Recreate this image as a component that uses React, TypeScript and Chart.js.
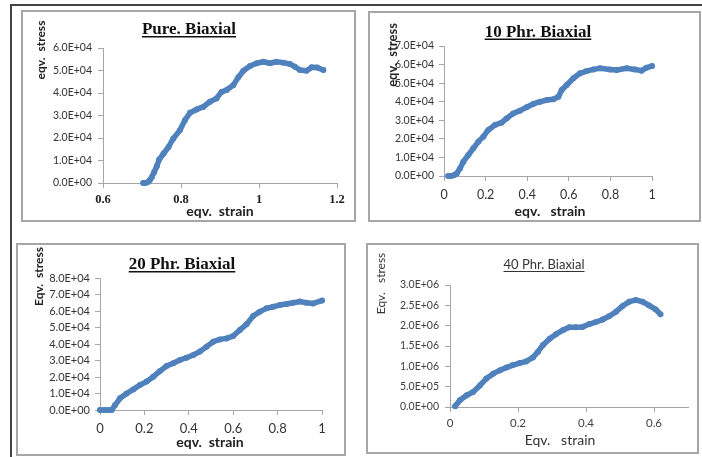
import React, { useEffect, useRef } from 'react';
import { Chart, registerables } from 'chart.js';
Chart.register(...registerables);

const W = 702;
const H = 457;
const BLUE = '#4F81BD';
const AXIS = '#a6a6a6';

// ---------- Panel 1 : Pure. Biaxial ----------
const pureStrain = [0.703, 0.708, 0.714, 0.72, 0.725, 0.731, 0.738, 0.744, 0.755, 0.768, 0.78, 0.797, 0.81, 0.823, 0.84, 0.857, 0.874, 0.891, 0.904, 0.917, 0.934, 0.947, 0.96, 0.977, 0.994, 1.011, 1.028, 1.045, 1.062, 1.079, 1.092, 1.105, 1.122, 1.135, 1.149, 1.165];
const pureStress = [0, 0, 300, 1200, 2600, 4800, 7500, 10400, 13000, 16000, 19700, 23400, 27900, 31200, 32700, 33800, 36100, 37600, 40500, 41300, 43500, 47000, 49900, 52000, 53200, 53900, 53200, 53900, 53500, 52900, 51700, 50200, 49900, 51400, 51300, 50200];
const pureXTicks = [0.6, 0.8, 1, 1.2];
const pureYTicks = [0, 10000, 20000, 30000, 40000, 50000, 60000];

// ---------- Panel 2 : 10 Phr. Biaxial ----------
const phr10Strain = [0.02, 0.035, 0.05, 0.061, 0.077, 0.093, 0.117, 0.141, 0.165, 0.189, 0.213, 0.245, 0.277, 0.301, 0.333, 0.365, 0.397, 0.429, 0.462, 0.494, 0.526, 0.55, 0.566, 0.59, 0.622, 0.654, 0.686, 0.718, 0.75, 0.798, 0.83, 0.878, 0.918, 0.95, 0.974, 1.0];
const phr10Stress = [0, 0, 500, 1400, 4100, 7700, 11300, 14900, 18500, 21200, 24800, 27500, 28700, 31000, 33700, 35200, 37000, 38800, 40000, 40900, 41300, 42700, 46300, 49000, 52600, 55300, 56500, 57400, 58000, 57400, 57100, 58000, 57400, 56700, 58300, 59200];
const phr10XTicks = [0, 0.2, 0.4, 0.6, 0.8, 1];
const phr10YTicks = [0, 10000, 20000, 30000, 40000, 50000, 60000, 70000];

// ---------- Panel 3 : 20 Phr. Biaxial ----------
const phr20Strain = [0, 0.02, 0.04, 0.053, 0.068, 0.09, 0.12, 0.15, 0.18, 0.21, 0.24, 0.27, 0.3, 0.33, 0.36, 0.39, 0.42, 0.45, 0.48, 0.51, 0.54, 0.57, 0.6, 0.63, 0.66, 0.69, 0.72, 0.75, 0.78, 0.81, 0.84, 0.87, 0.9, 0.93, 0.96, 1.0];
const phr20Stress = [0, 0, 0, 0, 3000, 7100, 10000, 12500, 15200, 17200, 20200, 23600, 26700, 28300, 30300, 31700, 33300, 35400, 38400, 41400, 42800, 43400, 44800, 48500, 51900, 57000, 59600, 61600, 62600, 63600, 64200, 65000, 65700, 65000, 64600, 66300];
const phr20XTicks = [0, 0.2, 0.4, 0.6, 0.8, 1];
const phr20YTicks = [0, 10000, 20000, 30000, 40000, 50000, 60000, 70000, 80000];

// ---------- Panel 4 : 40 Phr. Biaxial ----------
const phr40Strain = [0.015, 0.029, 0.049, 0.068, 0.088, 0.107, 0.127, 0.146, 0.166, 0.185, 0.205, 0.224, 0.244, 0.259, 0.273, 0.293, 0.312, 0.332, 0.351, 0.371, 0.39, 0.41, 0.429, 0.449, 0.468, 0.488, 0.507, 0.527, 0.546, 0.566, 0.585, 0.605, 0.619];
const phr40Stress = [20000, 165000, 290000, 370000, 530000, 700000, 820000, 900000, 970000, 1030000, 1080000, 1120000, 1220000, 1360000, 1520000, 1680000, 1790000, 1890000, 1960000, 1960000, 1970000, 2040000, 2090000, 2150000, 2230000, 2340000, 2480000, 2590000, 2630000, 2590000, 2500000, 2400000, 2280000];
const phr40XTicks = [0, 0.2, 0.4, 0.6];
const phr40YTicks = [0, 500000, 1000000, 1500000, 2000000, 2500000, 3000000];

const fmtExp = (v: number) => {
  const [m, e] = Number(v).toExponential(1).split('e');
  const sign = e[0] === '-' ? '-' : '+';
  const d = e.replace(/[+-]/, '').padStart(2, '0');
  return `${m}E${sign}${d}`;
};
const fmtDec = (v: number) => String(Math.round(Number(v) * 10) / 10);

type TextItem = {
  text: string; x: number; y: number; font: string; color?: string;
  rotate?: boolean; underline?: number; ulWidth?: number;
};

type PanelCfg = {
  strain: number[]; stress: number[];
  xTicks: number[]; yTicks: number[];
  xMin: number; xMax: number; yMin: number; yMax: number;
  area: { l: number; t: number; r: number; b: number };
  xFont: any; yFont: any; xPad: number; yPad: number;
  xColor: string; yColor: string;
  texts: TextItem[];
};

const Y_W = 60;
const X_H = 30;

function makeConfig(p: PanelCfg): any {
  const textPlugin = {
    id: 'panelText',
    afterDraw(chart: any) {
      const ctx = chart.ctx;
      for (const it of p.texts) {
        ctx.save();
        ctx.font = it.font;
        ctx.fillStyle = it.color || '#111';
        ctx.textAlign = 'center';
        ctx.textBaseline = 'alphabetic';
        ctx.translate(it.x, it.y);
        if (it.rotate) ctx.rotate(-Math.PI / 2);
        ctx.fillText(it.text, 0, 0);
        if (it.underline !== undefined) {
          const w = ctx.measureText(it.text).width;
          ctx.fillRect(-w / 2, it.underline, w, it.ulWidth || 1.5);
        }
        ctx.restore();
      }
    },
  };
  return {
    type: 'scatter',
    data: {
      datasets: [
        {
          data: p.strain.map((x, i) => ({ x, y: p.stress[i] })),
          showLine: true,
          borderColor: BLUE,
          backgroundColor: BLUE,
          borderWidth: 5.5,
          borderJoinStyle: 'round',
          borderCapStyle: 'round',
          pointRadius: 3,
          pointBorderWidth: 0,
          pointHoverRadius: 0,
          tension: 0,
          clip: false,
        },
      ],
    },
    options: {
      animation: false,
      responsive: false,
      maintainAspectRatio: false,
      events: [],
      layout: {
        padding: {
          left: p.area.l - Y_W,
          top: p.area.t,
          right: W - p.area.r,
          bottom: H - p.area.b - X_H,
        },
      },
      plugins: { legend: { display: false }, tooltip: { enabled: false }, title: { display: false } },
      scales: {
        x: {
          type: 'linear',
          min: p.xMin,
          max: p.xMax,
          afterBuildTicks: (s: any) => { s.ticks = p.xTicks.map((v) => ({ value: v })); },
          afterFit: (s: any) => { s.height = X_H; },
          grid: { display: true, drawOnChartArea: false, drawTicks: true, tickLength: 5, color: AXIS },
          border: { display: true, color: AXIS, width: 1 },
          ticks: { padding: p.xPad, font: p.xFont, color: p.xColor, maxRotation: 0, autoSkip: false, callback: (v: number) => fmtDec(v) },
        },
        y: {
          type: 'linear',
          min: p.yMin,
          max: p.yMax,
          afterBuildTicks: (s: any) => { s.ticks = p.yTicks.map((v) => ({ value: v })); },
          afterFit: (s: any) => { s.width = Y_W; },
          grid: { display: true, drawOnChartArea: false, drawTicks: true, tickLength: 5, color: AXIS },
          border: { display: true, color: AXIS, width: 1 },
          ticks: { padding: p.yPad, font: p.yFont, color: p.yColor, autoSkip: false, callback: (v: number) => fmtExp(v) },
        },
      },
    },
    plugins: [textPlugin],
  };
}

const SERIF = '"Liberation Serif", "Times New Roman", serif';
const SANS = 'Lato, "Noto Sans", sans-serif';

const panels: PanelCfg[] = [
  {
    strain: pureStrain, stress: pureStress, xTicks: pureXTicks, yTicks: pureYTicks,
    xMin: 0.6, xMax: 1.2, yMin: 0, yMax: 60000,
    area: { l: 103, t: 48, r: 337, b: 183 },
    xFont: { family: SERIF, size: 12.5, weight: 'bold' }, yFont: { family: SANS, size: 10.5 },
    xPad: 4.5, yPad: 6, xColor: '#222', yColor: '#333',
    texts: [
      { text: 'Pure. Biaxial', x: 189, y: 34, font: `bold 17px ${SERIF}`, underline: 2 },
      { text: 'eqv.  strain', x: 220, y: 216, font: `bold 14px ${SANS}`, color: '#222' },
      { text: 'eqv.  stress', x: 45, y: 50, font: `bold 12px ${SANS}`, color: '#222', rotate: true },
    ],
  },
  {
    strain: phr10Strain, stress: phr10Stress, xTicks: phr10XTicks, yTicks: phr10YTicks,
    xMin: 0, xMax: 1, yMin: 0, yMax: 70000,
    area: { l: 444, t: 46, r: 652, b: 176 },
    xFont: { family: SANS, size: 12.5 }, yFont: { family: SANS, size: 10.5 },
    xPad: 6, yPad: 5, xColor: '#333', yColor: '#333',
    texts: [
      { text: '10 Phr. Biaxial', x: 538, y: 36.5, font: `bold 17px ${SERIF}`, underline: 2 },
      { text: 'eqv.   strain', x: 550, y: 216, font: `bold 14px ${SANS}`, color: '#222' },
      { text: 'eqv.  stress', x: 397, y: 55, font: `bold 13px ${SANS}`, color: '#222', rotate: true },
    ],
  },
  {
    strain: phr20Strain, stress: phr20Stress, xTicks: phr20XTicks, yTicks: phr20YTicks,
    xMin: 0, xMax: 1, yMin: 0, yMax: 80000,
    area: { l: 100, t: 278, r: 322, b: 410 },
    xFont: { family: SANS, size: 13 }, yFont: { family: SANS, size: 11 },
    xPad: 6.5, yPad: 5, xColor: '#333', yColor: '#333',
    texts: [
      { text: '20 Phr. Biaxial', x: 182, y: 269, font: `bold 17px ${SERIF}`, underline: 2 },
      { text: 'eqv.  strain', x: 210, y: 447, font: `bold 14px ${SANS}`, color: '#222' },
      { text: 'Eqv.  stress', x: 43, y: 276.5, font: `bold 12px ${SANS}`, color: '#222', rotate: true },
    ],
  },
  {
    strain: phr40Strain, stress: phr40Stress, xTicks: phr40XTicks, yTicks: phr40YTicks,
    xMin: 0, xMax: 0.7, yMin: 0, yMax: 3000000,
    area: { l: 450, t: 285, r: 688, b: 407 },
    xFont: { family: SANS, size: 11.5 }, yFont: { family: SANS, size: 10.5 },
    xPad: 4, yPad: 6, xColor: '#404040', yColor: '#404040',
    texts: [
      { text: '40 Phr. Biaxial', x: 544, y: 269, font: `13px ${SANS}`, color: '#333', underline: 2, ulWidth: 1 },
      { text: 'Eqv.   strain', x: 560, y: 445, font: `14px ${SANS}`, color: '#333' },
      { text: 'Eqv.   stress', x: 385, y: 283.5, font: `12px ${SANS}`, color: '#333', rotate: true },
    ],
  },
];

const boxes = [
  { l: 21, t: 10, w: 335, h: 212 },
  { l: 368, t: 11, w: 333, h: 211 },
  { l: 16, t: 243, w: 330, h: 213 },
  { l: 366, t: 243, w: 333, h: 211 },
];

function PanelCanvas({ cfg }: { cfg: PanelCfg }) {
  const ref = useRef<HTMLCanvasElement | null>(null);
  useEffect(() => {
    if (!ref.current) return;
    const chart = new Chart(ref.current, makeConfig(cfg));
    return () => chart.destroy();
  }, [cfg]);
  return (
    <canvas
      ref={ref}
      width={W}
      height={H}
      style={{ position: 'absolute', left: 0, top: 0, width: W, height: H }}
    />
  );
}

export default function App() {
  return (
    <div style={{ position: 'fixed', left: 0, top: 0, width: W, height: H, background: '#fff', overflow: 'hidden' }}>
      <div style={{ position: 'absolute', left: 10, top: 4, width: W - 10, height: 1.5, background: '#444' }} />
      <div style={{ position: 'absolute', left: 10, top: 4, width: 1.5, height: H - 4, background: '#444' }} />
      {boxes.map((b, i) => (
        <div
          key={i}
          style={{
            position: 'absolute', left: b.l, top: b.t, width: b.w, height: b.h,
            boxSizing: 'border-box', border: '2px solid #a6a6a6',
          }}
        />
      ))}
      {panels.map((p, i) => (
        <PanelCanvas key={i} cfg={p} />
      ))}
    </div>
  );
}
